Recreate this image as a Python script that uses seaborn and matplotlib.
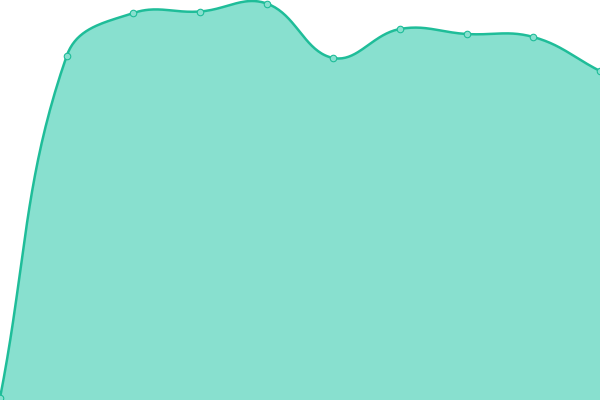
import numpy as np
import pandas as pd
import matplotlib
matplotlib.use("Agg")
import matplotlib.pyplot as plt
import seaborn as sns

# values (y axis 0..400)
steps = [0, 1, 2, 3, 4, 5, 6, 7, 8, 9]
values = [2, 344, 387, 388.5, 396.5, 342, 371, 366, 363, 329]

LINE = "#1fbd99"
FILL = "#88e0cf"


def spline(x, y, sx=600 / 9, sy=1.0, tension=0.4, n=40):
    # bezier smoothing with distance-weighted control points
    px = np.asarray(x, float) * sx
    py = np.asarray(y, float) * sy
    k = len(px)
    cps = []
    for i in range(k):
        a = (px[max(i - 1, 0)], py[max(i - 1, 0)])
        b = (px[i], py[i])
        c = (px[min(i + 1, k - 1)], py[min(i + 1, k - 1)])
        d01 = np.hypot(b[0] - a[0], b[1] - a[1])
        d12 = np.hypot(c[0] - b[0], c[1] - b[1])
        tot = d01 + d12
        s01 = d01 / tot if tot else 0
        s12 = d12 / tot if tot else 0
        fa, fb = tension * s01, tension * s12
        prev = (b[0] - fa * (c[0] - a[0]), b[1] - fa * (c[1] - a[1]))
        nxt = (b[0] + fb * (c[0] - a[0]), b[1] + fb * (c[1] - a[1]))
        cps.append((prev, nxt))
    xs, ys = [], []
    t = np.linspace(0, 1, n, endpoint=False)
    for i in range(k - 1):
        p0 = np.array([px[i], py[i]])
        p1 = np.array(cps[i][1])
        p2 = np.array(cps[i + 1][0])
        p3 = np.array([px[i + 1], py[i + 1]])
        pts = ((1 - t) ** 3)[:, None] * p0 + (3 * (1 - t) ** 2 * t)[:, None] * p1 \
            + (3 * (1 - t) * t ** 2)[:, None] * p2 + (t ** 3)[:, None] * p3
        xs.append(pts[:, 0])
        ys.append(pts[:, 1])
    xs.append([px[-1]])
    ys.append([py[-1]])
    return np.concatenate(xs) / sx, np.concatenate(ys) / sy


df = pd.DataFrame({"step": steps, "value": values})
cx, cy = spline(df["step"], df["value"])

sns.set_style("white")
fig = plt.figure(figsize=(6, 4), dpi=100)
ax = fig.add_axes([0, 0, 1, 1])

ax.fill_between(cx, 0, cy, color=FILL, linewidth=0)
ax.plot(cx, cy, color=LINE, linewidth=1.8, solid_capstyle="round")
sns.scatterplot(data=df, x="step", y="value", ax=ax, s=22, color=FILL,
                edgecolor=LINE, linewidth=0.8, zorder=5, clip_on=False)

ax.set_xlim(0, 9)
ax.set_ylim(0, 400)
ax.axis("off")

fig.savefig("out.png", dpi=100)
